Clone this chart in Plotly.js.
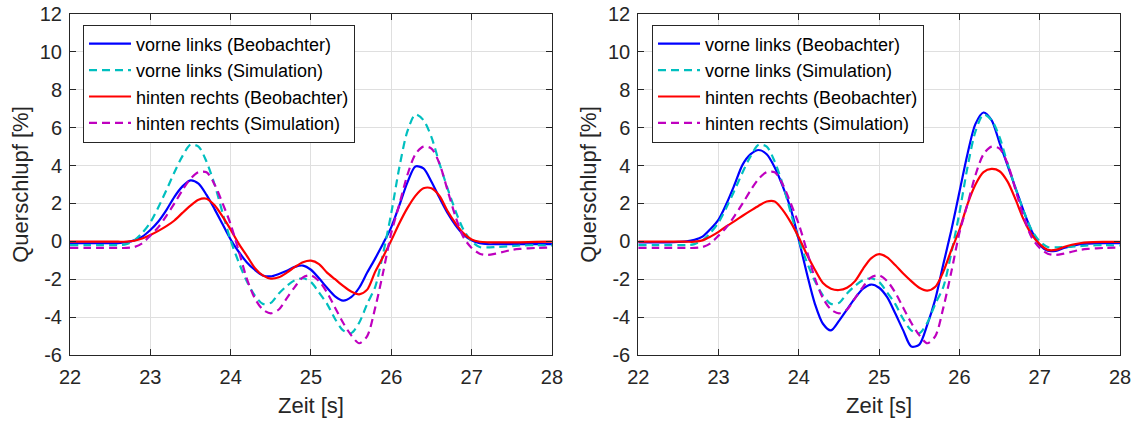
<!DOCTYPE html>
<html>
<head>
<meta charset="utf-8">
<script src="https://cdn.plot.ly/plotly-3.0.1.min.js"></script>
<style>html,body{margin:0;padding:0;background:#fff;}#chart{width:1139px;height:421px;}</style>
</head>
<body>
<div id="chart"></div>
<script>
// time axis [s]
const t = [22.0, 22.2, 22.4, 22.5, 22.6,
  22.7, 22.8, 22.9, 23.0, 23.1, 23.2, 23.3, 23.4, 23.5, 23.6,
  23.7, 23.8, 23.9, 24.0, 24.1, 24.2, 24.3, 24.4, 24.5, 24.6,
  24.7, 24.8, 24.9, 25.0, 25.1, 25.2, 25.3, 25.4, 25.5, 25.6,
  25.7, 25.8, 25.9, 26.0, 26.1, 26.2, 26.3, 26.4, 26.5, 26.6,
  26.7, 26.8, 26.9, 27.0, 27.1, 27.2, 27.3, 27.4,
  27.5, 27.6, 27.8, 28.0];

// simulation (same in both panels)
const vlSim = [-0.2, -0.2, -0.2, -0.2, -0.2,
  -0.15, 0.05, 0.45, 1.0, 1.8, 2.7, 3.65, 4.5, 5.1, 5.0,
  4.2, 3.0, 1.5, 0.05, -1.1, -2.1, -2.85, -3.3, -3.25, -2.75,
  -2.35, -2.05, -1.95, -2.15, -2.7, -3.3, -4.1, -4.7, -4.85, -4.3,
  -3.3, -2.4, -0.6, 1.5, 3.9, 5.8, 6.7, 6.4, 5.5, 4.1,
  2.8, 1.6, 0.6, 0.0, -0.3, -0.32, -0.3, -0.28,
  -0.25, -0.22, -0.2, -0.22];
const hrSim = [-0.35, -0.35, -0.35, -0.35, -0.35,
  -0.35, -0.3, -0.1, 0.3, 0.75, 1.35, 2.0, 2.7, 3.3, 3.65,
  3.65, 3.0, 2.0, 0.9, -0.5, -1.95, -3.0, -3.6, -3.8, -3.6,
  -3.0, -2.4, -1.9, -1.8, -2.1, -2.7, -3.5, -4.3, -4.95, -5.38,
  -5.0, -3.5, -1.6, 0.45, 1.95, 3.5, 4.6, 5.0, 4.9, 4.1,
  2.7, 1.3, 0.2, -0.35, -0.65, -0.72, -0.65, -0.55,
  -0.45, -0.4, -0.35, -0.33];

// observer, left panel
const vlObsA = [-0.1, -0.1, -0.1, -0.1, -0.1,
  -0.05, 0.05, 0.25, 0.6, 1.05, 1.65, 2.35, 2.9, 3.22, 3.05,
  2.45, 1.7, 0.9, 0.1, -0.55, -1.1, -1.5, -1.8, -1.85, -1.72,
  -1.55, -1.35, -1.28, -1.5, -1.95, -2.45, -2.9, -3.13, -2.95, -2.45,
  -1.65, -0.9, -0.1, 0.75, 1.9, 3.1, 3.95, 3.85, 3.15, 2.3,
  1.5, 0.85, 0.35, 0.05, -0.1, -0.15, -0.15, -0.15,
  -0.15, -0.15, -0.15, -0.15];
const hrObsA = [-0.02, -0.02, -0.02, -0.02, -0.02,
  -0.02, 0.03, 0.15, 0.33, 0.55, 0.8, 1.1, 1.5, 1.88, 2.2,
  2.25, 1.9, 1.3, 0.62, -0.12, -0.75, -1.4, -1.8, -1.97, -1.9,
  -1.65, -1.35, -1.1, -1.02, -1.2, -1.65, -2.0, -2.35, -2.65, -2.8,
  -2.55, -1.6, -0.8, 0.05, 0.95, 1.75, 2.4, 2.8, 2.8, 2.4,
  1.6, 0.95, 0.42, 0.1, -0.02, -0.05, -0.05, -0.05,
  -0.05, -0.05, -0.03, -0.02];

// observer, right panel
const vlObsB = [-0.05, -0.05, -0.05, -0.03, 0.0,
  0.08, 0.25, 0.65, 1.15, 2.0, 3.0, 4.05, 4.6, 4.82, 4.6,
  3.9, 2.9, 1.7, 0.07, -1.7, -3.3, -4.35, -4.7, -4.2, -3.6,
  -3.0, -2.5, -2.28, -2.45, -2.95, -3.8, -4.7, -5.55, -5.45, -4.4,
  -3.05, -1.2, 0.6, 2.6, 4.6, 6.2, 6.8, 6.4, 5.2, 4.0,
  2.8, 1.6, 0.55, -0.2, -0.5, -0.5, -0.35, -0.25,
  -0.15, -0.12, -0.1, -0.1];
const hrObsB = [-0.02, -0.02, -0.02, -0.02, -0.02,
  -0.02, 0.05, 0.25, 0.5, 0.8, 1.07, 1.35, 1.62, 1.88, 2.1,
  2.1, 1.65, 1.0, 0.2, -0.7, -1.5, -2.2, -2.5, -2.57, -2.45,
  -2.1, -1.45, -0.9, -0.68, -0.85, -1.25, -1.7, -2.1, -2.45, -2.6,
  -2.4, -1.6, -0.45, 0.6, 1.95, 3.0, 3.65, 3.82, 3.7, 3.15,
  2.2, 1.15, 0.35, -0.15, -0.45, -0.45, -0.3, -0.18,
  -0.1, -0.05, -0.03, -0.03];

const seriesNames = ['vorne links (Beobachter)', 'vorne links (Simulation)',
  'hinten rechts (Beobachter)', 'hinten rechts (Simulation)'];
const xTickVals = [22, 23, 24, 25, 26, 27, 28];
const xTickText = ['22', '23', '24', '25', '26', '27', '28'];
const yTickVals = [-6, -4, -2, 0, 2, 4, 6, 8, 10, 12];
const yTickText = ['-6', '-4', '-2', '0', '2', '4', '6', '8', '10', '12'];

const colors = ['#0000ff', '#00bfbf', '#ff0000', '#bf00bf'];
const dashes = ['solid', '8px,5px', 'solid', '8px,5px'];

function mk(y, i, xa, ya, leg) {
  return {
    x: t, y: y, type: 'scatter', mode: 'lines', name: seriesNames[i],
    xaxis: xa, yaxis: ya, legend: leg,
    line: {color: colors[i], width: 2.2, dash: dashes[i], shape: 'spline', smoothing: 0.8}
  };
}

const data = [
  mk(vlObsA, 0, 'x', 'y', 'legend'), mk(vlSim, 1, 'x', 'y', 'legend'),
  mk(hrObsA, 2, 'x', 'y', 'legend'), mk(hrSim, 3, 'x', 'y', 'legend'),
  mk(vlObsB, 0, 'x2', 'y2', 'legend2'), mk(vlSim, 1, 'x2', 'y2', 'legend2'),
  mk(hrObsB, 2, 'x2', 'y2', 'legend2'), mk(hrSim, 3, 'x2', 'y2', 'legend2')
];

const axBase = {
  showline: true, linecolor: '#262626', linewidth: 1, mirror: 'ticks',
  ticks: 'inside', ticklen: 6, tickcolor: '#262626', tickwidth: 1,
  showgrid: true, gridcolor: '#dfdfdf', gridwidth: 1, zeroline: false,
  tickfont: {size: 20, color: '#262626', family: 'Liberation Sans, Arial, sans-serif'},
  fixedrange: true
};
function xa(dom, anchor) {
  return Object.assign({}, axBase, {
    domain: dom, anchor: anchor, range: [22, 28], tickmode: 'array',
    tickvals: xTickVals, ticktext: xTickText, ticklabelstandoff: 4,
    title: {text: 'Zeit [s]', font: {size: 22, color: '#262626'}, standoff: 10}
  });
}
function ya(anchor) {
  return Object.assign({}, axBase, {
    domain: [0, 1], anchor: anchor, range: [-6, 12], tickmode: 'array',
    tickvals: yTickVals, ticktext: yTickText, ticklabelstandoff: 3,
    title: {text: 'Querschlupf [%]', font: {size: 22, color: '#262626'}, standoff: 5}
  });
}
const legBase = {
  xanchor: 'left', yanchor: 'top', bgcolor: '#ffffff', bordercolor: '#262626',
  borderwidth: 1, font: {size: 18, color: '#000000', family: 'Liberation Sans, Arial, sans-serif'},
  traceorder: 'normal', itemwidth: 42
};

const layout = {
  width: 1139, height: 421,
  margin: {l: 70, r: 19, t: 14, b: 66},
  paper_bgcolor: '#ffffff', plot_bgcolor: '#ffffff',
  font: {family: 'Liberation Sans, Arial, sans-serif', color: '#262626'},
  showlegend: true,
  xaxis: xa([0, 0.459], 'y'),
  yaxis: ya('x'),
  xaxis2: xa([0.5412, 1], 'y2'),
  yaxis2: ya('x2'),
  legend: Object.assign({}, legBase, {x: 0.0124, y: 0.9692}),
  legend2: Object.assign({}, legBase, {x: 0.5543, y: 0.9692})
};

Plotly.newPlot('chart', data, layout, {staticPlot: true, displayModeBar: false});
</script>
</body>
</html>
